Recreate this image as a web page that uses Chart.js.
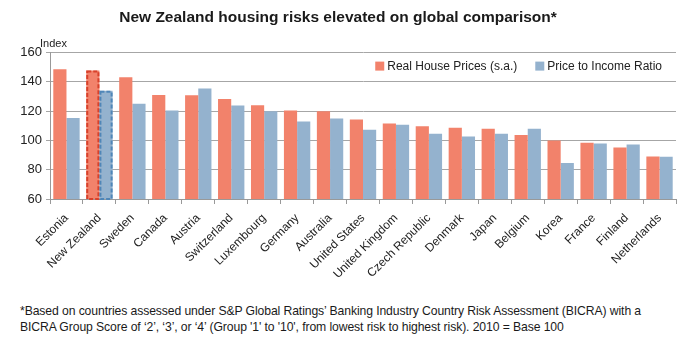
<!DOCTYPE html>
<html>
<head>
<meta charset="utf-8">
<script src="https://cdn.jsdelivr.net/npm/chart.js@4"></script>
<style>
  body { margin: 0; background: #fff; }
  #wrap { position: relative; width: 680px; height: 345px; }
  #note { position: absolute; left: 20px; top: 303px; font-family: "Liberation Sans", sans-serif;
          font-size: 12.2px; line-height: 16px; color: #1a1a1a; white-space: nowrap; letter-spacing: -0.1px; }
</style>
</head>
<body>
<div id="wrap">
  <canvas id="HousingRiskGraph" width="680" height="300"></canvas>
  <div id="note">*Based on countries assessed under S&amp;P Global Ratings’ Banking Industry Country Risk Assessment (BICRA) with a<br>BICRA Group Score of ‘2’, ‘3’, or ‘4’ (Group '1' to '10', from lowest risk to highest risk). 2010 = Base 100</div>
</div>
<script>
let Countries = ["Estonia", "New Zealand", "Sweden", "Canada", "Austria", "Switzerland", "Luxembourg", "Germany",
    "Australia", "United States", "United Kingdom", "Czech Republic", "Denmark", "Japan", "Belgium", "Korea",
    "France", "Finland", "Netherlands"];
let RealHousePrices = [148.7, 147.8, 143.2, 131, 130.8, 128.3, 124.1, 120.5, 120, 114.3, 111.6, 109.7, 108.6, 108, 103.8, 100, 98.5, 95.1, 89];
let PriceToIncome = [115.4, 134, 125.1, 120.5, 135.4, 123.9, 120, 113, 115, 107.3, 110.7, 104.5, 102.7, 104.5, 108, 84.6, 97.9, 97.3, 88.8];
let YTicks = [60, 80, 100, 120, 140, 160];
let Highlighted = 1; // New Zealand

const red = "#f2826b";
const blue = "#94b2ce";
const font = "'Liberation Sans', sans-serif";

// dashed outline around the highlighted country, the legend and the "Index" label
const extras = {
    id: "extras",
    afterDatasetsDraw(chart) {
        const ctx = chart.ctx;
        const outline = ["#d8412b", "#4f86b8"];
        const bottom = chart.chartArea.bottom;
        ctx.save();
        ctx.lineWidth = 2;
        ctx.setLineDash([4, 2]);
        chart.data.datasets.forEach((ds, i) => {
            const bar = chart.getDatasetMeta(i).data[Highlighted];
            const base = Math.min(bar.base, bottom);
            ctx.strokeStyle = outline[i];
            ctx.strokeRect(bar.x - bar.width / 2 + 1, bar.y + 1, bar.width - 2, base - bar.y - 1);
        });
        ctx.restore();
    },
    afterDraw(chart) {
        const ctx = chart.ctx;
        ctx.save();
        ctx.font = "11px " + font;
        ctx.fillStyle = "#222";
        ctx.fillText("Index", 40, 47);

        // legend, right-aligned inside the plot
        ctx.font = "12px " + font;
        ctx.textBaseline = "middle";
        const legendY = chart.chartArea.top + 14;
        let x = chart.chartArea.right - 14;
        for (let i = chart.data.datasets.length - 1; i >= 0; i--) {
            const ds = chart.data.datasets[i];
            const w = ctx.measureText(ds.label).width;
            x -= w;
            ctx.fillStyle = "#222";
            ctx.fillText(ds.label, x, legendY);
            ctx.fillStyle = ds.backgroundColor;
            ctx.fillRect(x - 12, legendY - 5, 9, 9);
            x -= 12 + 18;
        }
        ctx.restore();
    }
};

new Chart("HousingRiskGraph", {
    type: "bar",
    data: {
        labels: Countries,
        datasets: [{
            label: "Real House Prices (s.a.)",
            data: RealHousePrices,
            backgroundColor: red,
            categoryPercentage: 0.8,
            barPercentage: 1
        }, {
            label: "Price to Income Ratio",
            data: PriceToIncome,
            backgroundColor: blue,
            categoryPercentage: 0.8,
            barPercentage: 1
        }]
    },
    options: {
        responsive: false,
        animation: false,
        layout: {padding: {left: 0, right: 4, top: 0, bottom: 0}},
        plugins: {
            legend: {display: false},
            title: {
                display: true,
                text: "New Zealand housing risks elevated on global comparison*",
                color: "#1a1a1a",
                font: {family: font, size: 15.5, weight: "bold"},
                padding: {top: 8, bottom: 26}
            },
            tooltip: {enabled: false}
        },
        scales: {
            x: {
                grid: {display: true, drawOnChartArea: false, drawTicks: true, tickLength: 5, color: "#999", offset: true},
                border: {color: "#999"},
                ticks: {minRotation: 45, maxRotation: 45, color: "#222", font: {family: font, size: 12}, padding: 7},
                afterFit(scale) { scale.height = 101; }
            },
            y: {
                min: 60, max: 160,
                afterBuildTicks(scale) { scale.ticks = YTicks.map(v => ({value: v})); },
                grid: {color: "#a6a6a6", drawTicks: true, tickLength: 4},
                border: {color: "#999"},
                ticks: {color: "#222", font: {family: font, size: 13}, padding: 4},
                afterFit(scale) { scale.width = 50; }
            }
        }
    },
    plugins: [extras]
});
</script>
</body>
</html>
